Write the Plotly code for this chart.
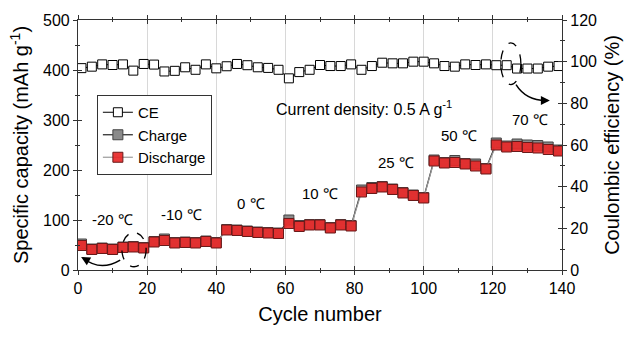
import plotly.graph_objects as go

cycles = list(range(1, 140, 3))
discharge = [49, 41, 43, 41, 45, 46, 44,
             56, 59, 54, 55, 54, 57, 54,
             80, 79, 77, 75, 74, 73,
             93, 87, 90, 90, 84, 90, 88,
             156, 163, 166, 161, 154, 149, 144,
             218, 214, 215, 212, 208, 202,
             250, 246, 247, 245, 244, 241, 238]
charge = [52, 42, 44, 42, 46, 47, 45,
          57, 62, 55, 56, 55, 58, 55,
          81, 80, 78, 76, 75, 74,
          100, 89, 91, 91, 85, 91, 89,
          160, 165, 167, 162, 155, 150, 145,
          220, 215, 219, 213, 212, 203,
          254, 248, 252, 250, 249, 246, 240]
ce = [96.9, 97.6, 98.7, 98.4, 98.7, 95.7, 98.9,
      98.6, 95.3, 95.6, 97.3, 96.1, 98.7, 96.8,
      97.8, 98.9, 98.3, 97.3, 97.0, 96.1,
      92.0, 95.0, 96.1, 98.4, 97.9, 97.9, 98.7,
      96.1, 97.9, 99.5, 99.2, 99.2, 100.0, 100.0,
      99.2, 97.9, 97.6, 98.7, 98.4, 98.7,
      98.3, 98.3, 96.7, 96.7, 96.7, 97.6, 97.9]

temp_labels = ["-20 ℃", "-10 ℃", "0 ℃", "10 ℃", "25 ℃", "50 ℃", "70 ℃"]
temp_x = [10.1, 30.0, 50.1, 70.1, 91.9, 110.3, 130.6]
temp_y = [102, 112, 134, 154, 216, 270, 301]

FONT = "Arial, 'Liberation Sans', sans-serif"

fig = go.Figure()
fig.add_trace(go.Scatter(x=cycles, y=ce, name="CE", mode="lines+markers", yaxis="y2",
                         line=dict(color="black", width=1),
                         marker=dict(symbol="square", size=9, color="white",
                                     line=dict(color="black", width=1))))
fig.add_trace(go.Scatter(x=cycles, y=charge, name="Charge", mode="lines+markers",
                         line=dict(color="#222222", width=1.2),
                         marker=dict(symbol="square", size=10, color="#8a8a8a",
                                     line=dict(color="#444444", width=1))))
fig.add_trace(go.Scatter(x=cycles, y=discharge, name="Discharge", mode="lines+markers",
                         line=dict(color="#9a9a9a", width=1.2),
                         marker=dict(symbol="square", size=10, color="rgba(232,40,40,0.92)",
                                     line=dict(color="#6a1a1a", width=1))))
# dummy traces to activate overlay axes (inward ticks)
fig.add_trace(go.Scatter(x=[], y=[], xaxis="x3", yaxis="y3", showlegend=False, hoverinfo="skip"))
fig.add_trace(go.Scatter(x=[], y=[], xaxis="x3", yaxis="y4", showlegend=False, hoverinfo="skip"))

tickfont = dict(family=FONT, size=16, color="black")
common = dict(showline=True, linecolor="#333333", linewidth=1.2, tickcolor="#333333", zeroline=False)

fig.update_layout(
    width=634, height=339,
    margin=dict(l=78, r=72, t=16, b=69),
    paper_bgcolor="white", plot_bgcolor="white",
    font=dict(family=FONT, color="black"),
    xaxis=dict(range=[0, 140], dtick=20, ticks="outside", ticklen=4, mirror="ticks",
               showgrid=True, gridcolor="#d8d8d8", gridwidth=1.2,
               minor=dict(dtick=10, ticks="outside", ticklen=2, tickcolor="#333333"),
               tickfont=tickfont,
               title=dict(text="Cycle number", font=dict(family=FONT, size=20), standoff=10),
               **common),
    xaxis3=dict(range=[0, 140], overlaying="x", anchor="y3", dtick=20, ticks="inside", ticklen=4,
                mirror="ticks", showticklabels=False, showgrid=False,
                minor=dict(dtick=10, ticks="inside", ticklen=2, tickcolor="#333333"),
                **common),
    yaxis=dict(range=[0, 500], dtick=100, ticks="outside", ticklen=4, showgrid=False,
               minor=dict(dtick=50, ticks="outside", ticklen=2, tickcolor="#333333"),
               tickfont=tickfont,
               title=dict(text="Specific capacity (mAh g<sup>-1</sup>)",
                          font=dict(family=FONT, size=20), standoff=8),
               **common),
    yaxis2=dict(range=[0, 120], dtick=20, overlaying="y", side="right", ticks="outside", ticklen=4,
                showgrid=False,
                minor=dict(dtick=10, ticks="outside", ticklen=2, tickcolor="#333333"),
                tickfont=tickfont,
                title=dict(text="Coulombic efficiency (%)", font=dict(family=FONT, size=20), standoff=8),
                **common),
    yaxis3=dict(range=[0, 500], dtick=100, overlaying="y", side="left", anchor="x3", ticks="inside",
                ticklen=4, showticklabels=False, showgrid=False,
                minor=dict(dtick=50, ticks="inside", ticklen=2, tickcolor="#333333"),
                **common),
    yaxis4=dict(range=[0, 120], dtick=20, overlaying="y", side="right", anchor="x3", ticks="inside",
                ticklen=4, showticklabels=False, showgrid=False,
                minor=dict(dtick=10, ticks="inside", ticklen=2, tickcolor="#333333"),
                **common),
    legend=dict(x=0.039, y=0.70, xanchor="left", yanchor="top", bgcolor="white",
                bordercolor="#333333", borderwidth=1, font=dict(family=FONT, size=15),
                tracegroupgap=0, itemwidth=30),
    showlegend=True,
)

for t, xx, yy in zip(temp_labels, temp_x, temp_y):
    fig.add_annotation(x=xx, y=yy, text=t, showarrow=False, xref="x", yref="y",
                       font=dict(family=FONT, size=15, color="black"))

fig.add_annotation(x=82.6, y=325, text="Current density: 0.5 A g<sup>-1</sup>", showarrow=False,
                   xref="x", yref="y", font=dict(family=FONT, size=16, color="black"))

# dashed ellipses
fig.add_shape(type="circle", xref="x", yref="y", x0=12.7, x1=19.7, y0=6.5, y1=75,
              line=dict(color="black", width=1.3, dash="dash"))
fig.add_shape(type="circle", xref="x", yref="y2", x0=122.3, x1=128.1, y0=89, y1=109,
              line=dict(color="black", width=1.3, dash="dash"))

# curved arrows
fig.add_shape(type="path", xref="x", yref="y", path="M 12.2 19.7 Q 6.4 -4 1.5 24",
              line=dict(color="black", width=1.5))
fig.add_annotation(x=0.9, y=26, ax=2.2, ay=21, xref="x", yref="y", axref="x", ayref="y",
                   text="", showarrow=True, arrowhead=2, arrowsize=1.2, arrowwidth=1.5, arrowcolor="black")
fig.add_shape(type="path", xref="x", yref="y2", path="M 126.7 89 Q 129.6 81.3 135.5 81.4",
              line=dict(color="black", width=1.5))
fig.add_annotation(x=136.5, y=81.4, ax=134.5, ay=81.4, xref="x", yref="y2", axref="x", ayref="y2",
                   text="", showarrow=True, arrowhead=2, arrowsize=1.2, arrowwidth=1.5, arrowcolor="black")

fig.write_html("out.html")
